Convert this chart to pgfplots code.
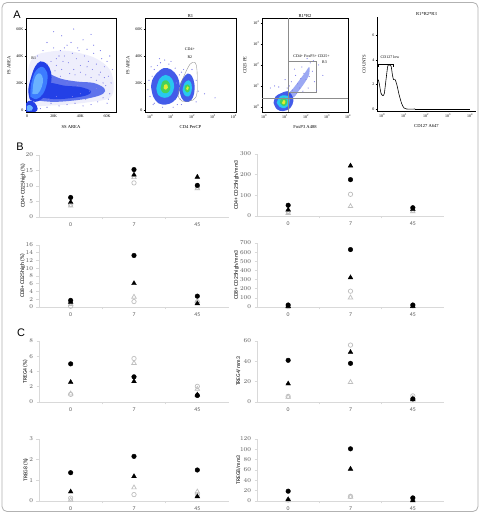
\documentclass[border=0pt]{standalone}
\usepackage{pgfplots}
\pgfplotsset{compat=1.18}
\usepackage{fontspec}
\setmainfont{Carlito}
\newfontfamily\serifA{Liberation Serif}
\newfontfamily\sansA{Liberation Sans}
\definecolor{axgray}{HTML}{D9D9D9}
\definecolor{tickgray}{HTML}{595959}
\definecolor{opengray}{HTML}{BFBFBF}
\definecolor{fpale}{HTML}{7F7FEA}
\definecolor{fhaze}{HTML}{EEEEFC}
\definecolor{fblue}{HTML}{2340E6}
\definecolor{fmid}{HTML}{3C7CFF}
\definecolor{flight}{HTML}{6AB2FF}
\definecolor{fcyan}{HTML}{28C8F0}
\definecolor{fgreen}{HTML}{46D25A}
\definecolor{fyellow}{HTML}{E6EB32}
\definecolor{gategray}{HTML}{8C8C8C}
\tikzset{lbl/.style={font=\serifA\fontsize{4}{4.5}\selectfont, align=center}}
\pgfplotsset{
 flowax/.style={scale only axis, clip=true,
  axis line style={black, line width=0.4bp},
  tick style={black, line width=0.35bp}, major tick length=1.5bp, tick align=outside,
  tick pos=left,
  ticklabel style={font=\serifA\fontsize{4}{4}\selectfont, inner sep=1bp},
  every axis x label/.style={at={(axis description cs:0.5,0)}, anchor=center, yshift=-15bp, font=\serifA\fontsize{4.6}{5}\selectfont},
  every axis y label/.style={rotate=90, anchor=center, font=\serifA\fontsize{4.6}{5}\selectfont},
  every axis title/.style={at={(axis description cs:0.5,1)}, anchor=south, yshift=0.3bp, inner sep=0.8bp, font=\serifA\fontsize{4.6}{5}\selectfont}},
 blob/.style={draw=none, smooth, tension=0.6},
 dots/.style={only marks, mark=*, mark size=0.28bp, color=fpale, mark options={draw=none, fill=fpale}},
 catax/.style={scale only axis, clip=false,
  axis x line*=bottom, axis y line*=left,
  axis line style={draw=axgray, line width=0.6bp},
  xmin=0.5, xmax=3.5, ymin=0,
  xtick={1.5,2.5}, xticklabels={},
  extra x ticks={1,2,3}, extra x tick labels={0,7,45},
  extra x tick style={major tick length=0pt, xticklabel style={yshift=-2.5bp}},
  tick style={draw=axgray, line width=0.6bp},
  major tick length=2.5bp, tick align=outside,
  ticklabel style={font=\fontsize{5.8}{6}\selectfont, text=tickgray},
  scaled y ticks=false,
  label style={font=\fontsize{5.6}{6}\selectfont},
  every axis y label/.style={rotate=90, anchor=center, font=\fontsize{5.6}{6}\selectfont}},
 fc/.style={only marks, mark=*, mark size=2.3bp, mark options={fill=black, draw=black}},
 ft/.style={only marks, mark=triangle*, mark size=2.7bp, mark options={fill=black, draw=black}},
 oc/.style={only marks, mark=o, mark size=2.2bp, mark options={draw=opengray, line width=0.7bp}},
 ot/.style={only marks, mark=triangle, mark size=2.6bp, mark options={draw=opengray, line width=0.7bp}},
}
\begin{document}
\begin{tikzpicture}
\useasboundingbox (0bp,0bp) rectangle (480bp,513bp);
\fill[white] (0bp,0bp) rectangle (480bp,513bp);
\draw[gray!60, line width=0.8bp, rounded corners=5bp] (2bp,1.5bp) rectangle (478bp,510.5bp);
\node[font=\sansA\fontsize{11}{11}\selectfont] at (17bp,498bp) {A};
\node[font=\sansA\fontsize{11}{11}\selectfont] at (20bp,366bp) {B};
\node[font=\sansA\fontsize{11}{11}\selectfont] at (21bp,180bp) {C};

% ---------- P1 ----------
\begin{axis}[flowax, at={(26bp,401bp)}, anchor=south west, width=90bp, height=93.5bp,
 xmin=-0.75, xmax=66.7, ymin=-1.5, ymax=67.8,
 xtick={0,20,40,60}, xticklabels={0,20K,40K,60K},
 ytick={0,20,40,60}, yticklabels={0,20K,40K,60K},
 xlabel={SS AREA}, ylabel={FS AREA},
 ylabel style={at={(axis description cs:-0.189,0.5)}}]
\addplot[blob, fill=fhaze] coordinates {(0,2) (12,3) (30,4) (48,6) (62,9) (65,18) (62,30) (52,38) (40,42) (28,44) (16,43) (6,40) (1,30) (0,2)} -- cycle;
\addplot[dots] coordinates {(22,38) (25,44) (28,40) (31,35) (34,42) (37,38) (40,33) (43,40) (46,36) (49,30) (52,34) (55,28) (58,32) (61,25) (38,46) (30,48) (20,46) (45,45) (50,42) (56,38) (60,36) (63,20) (62,12) (59,18) (57,9) (53,6) (48,4) (42,3) (36,5) (30,4) (24,3) (18,5) (15,2) (10,1) (40,28) (44,26) (48,24) (52,22) (35,30) (32,27) (26,30) (22,33) (18,36) (15,34) (28,46) (33,50) (42,52) (26,55) (15,50) (50,48) (55,44) (62,40) (64,30) (20,58) (35,60) (48,56) (12,44) (8,40) (60,5) (5,6) (38,18) (44,8) (52,16) (58,24) (61,8) (30,20) (25,25) (40,12) (47,14) (34,10) (22,10) (16,8) (27,36) (36,26) (45,32) (54,26) (24,40) (39,44) (57,20) (21,29)};
\addplot[blob, fill=fblue, fill opacity=0.7] coordinates {(8,7) (20,6) (35,7) (48,9) (57,12) (58,16) (50,20) (38,21) (26,23) (16,27) (10,28) (8,7)} -- cycle;
\addplot[blob, fill=fblue] coordinates {(12,9) (22,8) (35,9) (45,11) (48,14) (40,17) (28,18) (18,20) (13,18) (12,9)} -- cycle;
\addplot[blob, fill=fblue] coordinates {(2,8) (6,6) (11,8) (15,13) (18,20) (18,28) (15,34) (10,36) (6,32) (3,24) (1,15) (2,8)} -- cycle;
\addplot[blob, fill=fmid] coordinates {(2.5,10) (7,8) (12,12) (15,20) (15,28) (11,32) (6,28) (3,19) (2.5,10)} -- cycle;
\addplot[blob, fill=flight] coordinates {(4,12) (8,12) (11,17) (12,23) (10,27) (7,26) (5,21) (4,12)} -- cycle;
\addplot[blob, fill=fblue] coordinates {(-0.7,-1.5) (6,-1.5) (8,1) (6,5) (3,7) (-0.7,5) (-0.7,-1.5)} -- cycle;
\addplot[blob, fill=flight] coordinates {(0,-0.5) (3.5,-0.5) (4.5,1.5) (2.5,3.5) (0,3) (0,-0.5)} -- cycle;
\node[lbl] at (axis cs:5,38.5) {R1};
\end{axis}

% ---------- P2 ----------
\begin{axis}[flowax, at={(145bp,401bp)}, anchor=south west, width=91bp, height=93.5bp,
 xmin=-0.24, xmax=4.1, ymin=-1.5, ymax=67.8,
 xtick={0,1,2,3,4}, xticklabels={10\textsuperscript{0},10\textsuperscript{1},10\textsuperscript{2},10\textsuperscript{3},10\textsuperscript{4}},
 ytick={0,20,40,60}, yticklabels={0,20K,40K,60K},
 title={R1}, xlabel={CD4 PerCP}, ylabel={FS AREA},
 ylabel style={at={(axis description cs:-0.187,0.5)}}]
\addplot[dots] coordinates {(0.0,10) (0.1,25) (0.2,30) (0.35,33) (0.5,35) (0.9,34) (1.2,31) (1.4,26) (1.45,8) (1.3,4) (0.6,2) (0.2,5) (-0.1,15) (1.5,28) (1.6,30) (2.2,22) (2.3,14) (2.2,6) (1.0,36) (0.7,37) (1.25,20) (1.5,4) (2.0,30) (0.05,32) (2.6,12) (3.1,9) (0.45,38) (1.1,2) (-0.05,22) (0.15,4)};
\addplot[blob, fill=fblue, fill opacity=0.85] coordinates {(0.05,17) (0.15,10) (0.4,5) (0.75,4) (1.1,6) (1.35,11) (1.42,18) (1.3,25) (1.0,30) (0.65,31) (0.3,27) (0.1,22) (0.05,17)} -- cycle;
\addplot[blob, fill=fcyan] coordinates {(0.3,16) (0.4,11) (0.7,9) (1.0,11) (1.15,17) (1.05,23) (0.75,26) (0.45,23) (0.3,16)} -- cycle;
\addplot[blob, fill=fgreen] coordinates {(0.5,16) (0.6,13) (0.8,12.5) (0.95,15) (0.95,19) (0.8,22) (0.6,21) (0.5,16)} -- cycle;
\addplot[blob, fill=fyellow] coordinates {(0.65,16) (0.75,15) (0.85,16.5) (0.8,19) (0.68,18.5) (0.65,16)} -- cycle;
\addplot[blob, fill=fblue, fill opacity=0.85] coordinates {(1.4,15) (1.5,9) (1.7,6) (1.95,7) (2.1,12) (2.12,19) (2.0,25) (1.8,27) (1.6,24) (1.45,20) (1.4,15)} -- cycle;
\addplot[blob, fill=fcyan] coordinates {(1.55,15) (1.65,11) (1.85,10) (1.98,14) (1.98,19) (1.85,22) (1.65,20) (1.55,15)} -- cycle;
\addplot[blob, fill=fgreen] coordinates {(1.65,15) (1.75,13) (1.88,14) (1.9,17.5) (1.78,19) (1.67,18) (1.65,15)} -- cycle;
\addplot[blob, fill=fyellow] coordinates {(1.72,15.5) (1.8,14.8) (1.85,16.5) (1.78,17.5) (1.72,15.5)} -- cycle;
\addplot[gategray, line width=0.35bp, smooth, tension=0.5] coordinates {(1.43,16.9) (1.57,23.5) (1.9,33.8) (2.14,35.3) (2.24,29.4) (2.24,12.5) (2.05,7.4) (1.52,6.6) (1.33,11) (1.43,16.9)};
\node[lbl] at (axis cs:1.9,45) {CD4+};
\node[lbl] at (axis cs:1.9,39.3) {R2};
\end{axis}

% ---------- P3 ----------
\begin{axis}[flowax, at={(262bp,401bp)}, anchor=south west, width=86bp, height=93.5bp,
 xmin=-0.1, xmax=4.0, ymin=-0.24, ymax=4.21,
 xtick={0,1,2,3,4}, xticklabels={10\textsuperscript{0},10\textsuperscript{1},10\textsuperscript{2},10\textsuperscript{3},10\textsuperscript{4}},
 ytick={0,1,2,3,4}, yticklabels={10\textsuperscript{0},10\textsuperscript{1},10\textsuperscript{2},10\textsuperscript{3},10\textsuperscript{4}},
 title={R1*R2}, xlabel={FoxP3 A488}, ylabel={CD25 PE},
 ylabel style={at={(axis description cs:-0.198,0.5)}}]
\addplot[dots] coordinates {(1.5,1.5) (1.8,1.9) (2.2,2.1) (2.4,1.2) (1.3,1.2) (1.7,0.9) (2.0,1.3) (1.6,1.1) (1.9,1.6) (2.3,1.7) (2.6,2.0) (1.2,1.0) (2.1,0.9) (2.5,0.8) (1.0,1.3) (1.45,1.8) (2.05,2.3) (0.3,0.9) (0.5,1.0) (2.8,1.5) (1.35,0.8) (1.55,0.65) (1.75,1.35) (2.15,1.45) (1.1,0.9) (0.7,0.95) (1.85,0.75) (2.35,2.2)};
\addplot[blob, fill=fblue, fill opacity=0.45] coordinates {(1.1,0.6) (1.4,0.9) (1.7,1.3) (2.0,1.7) (2.15,1.9) (2.15,1.55) (1.9,1.1) (1.6,0.7) (1.4,0.45) (1.1,0.6)} -- cycle;
\addplot[blob, fill=fblue, fill opacity=0.85] coordinates {(0.45,0.2) (0.6,-0.1) (0.9,-0.2) (1.25,-0.05) (1.4,0.3) (1.3,0.6) (1.1,0.75) (0.8,0.65) (0.55,0.5) (0.45,0.2)} -- cycle;
\addplot[blob, fill=fcyan] coordinates {(0.6,0.2) (0.75,0) (1.0,-0.05) (1.2,0.15) (1.2,0.45) (1.0,0.55) (0.75,0.5) (0.6,0.2)} -- cycle;
\addplot[blob, fill=fgreen] coordinates {(0.75,0.2) (0.9,0.05) (1.05,0.1) (1.1,0.3) (0.95,0.45) (0.8,0.38) (0.75,0.2)} -- cycle;
\addplot[blob, fill=fyellow] coordinates {(0.85,0.18) (0.95,0.12) (1.02,0.25) (0.93,0.33) (0.85,0.18)} -- cycle;
\addplot[gategray, line width=0.4bp] coordinates {(1.13,-0.24) (1.13,4.21)};
\addplot[gategray, line width=0.4bp] coordinates {(-0.1,0.43) (4.0,0.43)};
\addplot[gategray, line width=0.4bp] coordinates {(1.13,0.71) (2.5,0.71) (2.5,2.19) (1.13,2.19)};
\node[lbl] at (axis cs:2.26,2.43) {CD4+ FoxP3+ CD25+};
\node[lbl] at (axis cs:2.88,2.14) {R3};
\end{axis}

% ---------- P4 ----------
\begin{axis}[flowax, axis lines*=left, at={(377bp,402bp)}, anchor=south west, width=99bp, height=94bp,
 xmin=-0.23, xmax=4.27, ymin=-0.16, ymax=7.5,
 xtick={0,1,2,3,4}, xticklabels={10\textsuperscript{0},10\textsuperscript{1},10\textsuperscript{2},10\textsuperscript{3},10\textsuperscript{4}},
 ytick={0,2,4,6},
 yticklabel style={/pgf/number format/assume math mode=true, font=\serifA\fontsize{4}{4}\selectfont},
 title={R1*R2*R3}, xlabel={CD127 A647}, ylabel={COUNTS},
 ylabel style={at={(axis description cs:-0.131,0.5)}}]
\addplot[black, line width=0.6bp, smooth, tension=0.45] coordinates {(-0.17,2.4) (-0.12,2.0) (-0.05,1.3) (0.03,1.1) (0.1,1.25) (0.18,2.4) (0.26,3.5) (0.33,3.6) (0.41,3.5) (0.47,2.8) (0.52,2.4) (0.59,2.4) (0.67,2.0) (0.77,1.2) (0.89,0.45) (1.0,0.08) (1.12,0) (1.5,0)};
\addplot[black, line width=0.6bp] coordinates {(1.5,0) (4.0,0)};
\addplot[black, line width=0.35bp] coordinates {(-0.17,3.45) (-0.17,3.67) (0.52,3.67) (0.52,3.45)};
\node[lbl] at (axis cs:0.36,4.2) {CD127 low};
\end{axis}

% ---------- B1 ----------
\begin{axis}[catax, at={(39bp,296bp)}, anchor=south west, width=190bp, height=62bp,
 ymax=20, ytick={0,5,10,15,20}, ylabel={CD4+ CD25high (\%)},
 ylabel style={at={(axis description cs:-0.084,0.5)}}]
\addplot[ot] coordinates {(1,3.6) (2,12.8) (3,9.2)};
\addplot[oc] coordinates {(1,4.0) (2,11.0) (3,9.6)};
\addplot[ft] coordinates {(1,4.8) (2,13.6) (3,12.9)};
\addplot[fc] coordinates {(1,6.3) (2,15.3) (3,10.2)};
\end{axis}
% ---------- B2 ----------
\begin{axis}[catax, at={(257bp,297bp)}, anchor=south west, width=187bp, height=62bp,
 ymax=300, ytick={0,100,200,300}, ylabel={CD4+ CD25high/mm3},
 ylabel style={at={(axis description cs:-0.11,0.5)}}]
\addplot[ot] coordinates {(1,14) (2,47) (3,22)};
\addplot[oc] coordinates {(1,22) (2,105) (3,28)};
\addplot[ft] coordinates {(1,30) (2,243) (3,32)};
\addplot[fc] coordinates {(1,52) (2,176) (3,40)};
\end{axis}
% ---------- B3 ----------
\begin{axis}[catax, at={(39bp,206bp)}, anchor=south west, width=190bp, height=62bp,
 ymax=16, ytick={0,2,...,16}, ylabel={CD8+ CD25high (\%)},
 ylabel style={at={(axis description cs:-0.087,0.5)}}]
\addplot[ot] coordinates {(1,0.7) (2,2.6) (3,1.5)};
\addplot[oc] coordinates {(1,0.2) (2,1.4) (3,1.3)};
\addplot[ft] coordinates {(1,1.3) (2,6.1) (3,0.9)};
\addplot[fc] coordinates {(1,1.7) (2,13.3) (3,2.8)};
\end{axis}
% ---------- B4 ----------
\begin{axis}[catax, at={(257bp,206bp)}, anchor=south west, width=187bp, height=64bp,
 ymax=700, ytick={0,100,...,700}, ylabel={CD8+ CD25high/mm3},
 ylabel style={at={(axis description cs:-0.11,0.5)}}]
\addplot[ot] coordinates {(1,3) (2,102) (3,6)};
\addplot[oc] coordinates {(1,4) (2,173) (3,12)};
\addplot[ft] coordinates {(1,8) (2,322) (3,8)};
\addplot[fc] coordinates {(1,22) (2,628) (3,22)};
\end{axis}
% ---------- C1 ----------
\begin{axis}[catax, at={(39bp,111bp)}, anchor=south west, width=190bp, height=61bp,
 ymax=8, ytick={0,2,4,6,8}, ylabel={TREG4 (\%)},
 ylabel style={at={(axis description cs:-0.072,0.5)}}]
\addplot[ot] coordinates {(1,1.1) (2,5.1) (3,1.7)};
\addplot[oc] coordinates {(1,1.0) (2,5.7) (3,2.05)};
\addplot[ft] coordinates {(1,2.6) (2,2.7) (3,0.95)};
\addplot[fc] coordinates {(1,5.0) (2,3.3) (3,0.85)};
\end{axis}
% ---------- C2 ----------
\begin{axis}[catax, at={(257bp,111bp)}, anchor=south west, width=187bp, height=61bp,
 ymax=60, ytick={0,20,40,60}, ylabel={TREG4/mm3},
 ylabel style={at={(axis description cs:-0.10,0.5)}}]
\addplot[ot] coordinates {(1,5) (2,19.5) (3,4)};
\addplot[oc] coordinates {(1,5.5) (2,56) (3,6)};
\addplot[ft] coordinates {(1,18) (2,49) (3,2.5)};
\addplot[fc] coordinates {(1,41) (2,38) (3,3)};
\end{axis}
% ---------- C3 ----------
\begin{axis}[catax, at={(39bp,12bp)}, anchor=south west, width=190bp, height=62bp,
 ymax=3, ytick={0,1,2,3}, ylabel={TREG8 (\%)},
 ylabel style={at={(axis description cs:-0.07,0.5)}}]
\addplot[ot] coordinates {(1,0.05) (2,0.65) (3,0.45)};
\addplot[oc] coordinates {(1,0.14) (2,0.31) (3,0.3)};
\addplot[ft] coordinates {(1,0.45) (2,1.19) (3,0.22)};
\addplot[fc] coordinates {(1,1.37) (2,2.16) (3,1.5)};
\end{axis}
% ---------- C4 ----------
\begin{axis}[catax, at={(257bp,12bp)}, anchor=south west, width=187bp, height=62bp,
 ymax=120, ytick={0,20,...,120}, ylabel={TREG8/mm3},
 ylabel style={at={(axis description cs:-0.10,0.5)}}]
\addplot[ot] coordinates {(1,1) (2,8) (3,3)};
\addplot[oc] coordinates {(1,2) (2,9) (3,5)};
\addplot[ft] coordinates {(1,3) (2,62) (3,1)};
\addplot[fc] coordinates {(1,19) (2,101) (3,6)};
\end{axis}
\end{tikzpicture}
\end{document}
